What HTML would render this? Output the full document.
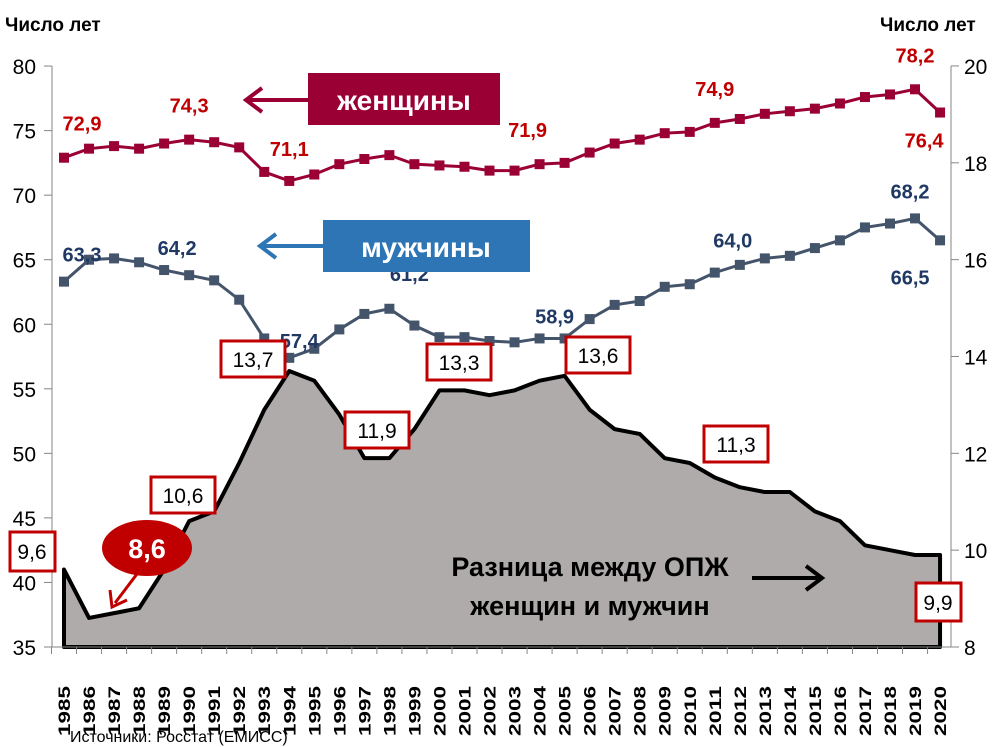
<!DOCTYPE html>
<html><head><meta charset="utf-8"><style>
body{margin:0;background:#fff}
svg{display:block;font-family:"Liberation Sans",sans-serif}
.nar{font-family:"Liberation Sans Narrow","Liberation Sans",sans-serif}
</style></head><body>
<svg id="chart" width="1004" height="747" viewBox="0 0 1004 747">
<g id="grid"></g>
<g id="gap"></g>
<g id="series"></g>
<g id="labels"></g>
<g id="axes"></g>
</svg>
<script>
const years=[1985,1986,1987,1988,1989,1990,1991,1992,1993,1994,1995,1996,1997,1998,1999,2000,2001,2002,2003,2004,2005,2006,2007,2008,2009,2010,2011,2012,2013,2014,2015,2016,2017,2018,2019,2020];
const women=[72.9,73.6,73.8,73.6,74.0,74.3,74.1,73.7,71.8,71.1,71.6,72.4,72.8,73.1,72.4,72.3,72.2,71.9,71.9,72.4,72.5,73.3,74.0,74.3,74.8,74.9,75.6,75.9,76.3,76.5,76.7,77.1,77.6,77.8,78.2,76.4];
const men=[63.3,65.0,65.1,64.8,64.2,63.8,63.4,61.9,58.9,57.4,58.1,59.6,60.8,61.2,59.9,59.0,59.0,58.7,58.6,58.9,58.9,60.4,61.5,61.8,62.9,63.1,64.0,64.6,65.1,65.3,65.9,66.5,67.5,67.8,68.2,66.5];
const gapVals=[9.6,8.6,8.7,8.8,9.6,10.6,10.8,11.8,12.9,13.7,13.5,12.8,11.9,11.9,12.5,13.3,13.3,13.2,13.3,13.5,13.6,12.9,12.5,12.4,11.9,11.8,11.5,11.3,11.2,11.2,10.8,10.6,10.1,10.0,9.9,9.9];
const leftTicks=[35,40,45,50,55,60,65,70,75,80];
const rightTicks=[8,10,12,14,16,18,20];
const womenLabels=[[1985,"72,9"],[1990,"74,3"],[1994,"71,1"],[2004,"71,9"],[2011,"74,9"],[2019,"78,2"],[2020,"76,4"]];
const menLabels=[[1985,"63,3"],[1990,"64,2"],[1994,"57,4"],[1998,"61,2"],[2005,"58,9"],[2011,"64,0"],[2019,"68,2"],[2020,"66,5"]];
const NS="http://www.w3.org/2000/svg";
const X=y=>64+(y-1985)*25.03;
const YL=v=>647-(v-35)*12.91;
const YR=v=>647-(v-8)*48.42;
function mk(tag,attrs,parent,text){const e=document.createElementNS(NS,tag);for(const k in attrs)e.setAttribute(k,attrs[k]);if(text!==undefined)e.textContent=text;document.getElementById(parent).appendChild(e);return e;}
// gap area
let d="M"+X(1985)+","+YL(35);
years.forEach((y,i)=>d+=" L"+X(y)+","+YR(gapVals[i]));
d+=" L"+X(2020)+","+YL(35)+" Z";
let e=mk("path",{d:d,fill:"#AFABAB",stroke:"#000","stroke-width":4,"stroke-linejoin":"round"},"gap");


// series
function series(vals,color,name){
 const p=vals.map((v,i)=>X(years[i])+","+YL(v)).join(" ");
 let l=mk("polyline",{points:p,fill:"none",stroke:color,"stroke-width":3},"series");
 
 
 vals.forEach((v,i)=>{
  let r=mk("rect",{x:X(years[i])-5,y:YL(v)-5,width:10,height:10,fill:color},"series");
  
  
 });
}
series(women,"#9B0034","women");
series(men,"#44546A","men");
// value labels
const wOff={1985:-27,1990:-27,1994:-25,2004:-27,2011:-27,2019:-27,2020:35};
womenLabels.forEach(([y,t])=>{const i=years.indexOf(y);
 let tx=mk("text",{x:X(y)+(y==1985?18:y==2020?-16:y==2004?-12:0),y:YL(women[i])+wOff[y],"text-anchor":"middle","font-size":20,"font-weight":"bold",fill:"#C00000"},"labels",t);
 
 });
const mPos={1985:[18,-20],1990:[-12,-20],1994:[10,-10],1998:[20,-28],2005:[-10,-15],2011:[18,-25],2019:[-5,-20],2020:[-30,44]};
menLabels.forEach(([y,t])=>{const i=years.indexOf(y);
 let tx=mk("text",{x:X(y)+mPos[y][0],y:YL(men[i])+mPos[y][1],"text-anchor":"middle","font-size":20,"font-weight":"bold",fill:"#1F3864"},"labels",t);
 
 });
// axes
let ax=mk("line",{x1:52,y1:66,x2:52,y2:647,stroke:"#868686","stroke-width":1},"axes");
ax=mk("line",{x1:951,y1:66,x2:951,y2:647,stroke:"#868686","stroke-width":1},"axes");
ax=mk("line",{x1:52,y1:647,x2:951,y2:647,stroke:"#868686","stroke-width":1},"axes");
leftTicks.forEach(v=>{
 mk("line",{x1:44,y1:YL(v),x2:52,y2:YL(v),stroke:"#868686"},"axes");
 let t=mk("text",{x:36,y:YL(v)+8,"text-anchor":"end","font-size":21,fill:"#000"},"axes",v);
 
 });
rightTicks.forEach(v=>{
 mk("line",{x1:951,y1:YR(v),x2:959,y2:YR(v),stroke:"#868686"},"axes");
 let t=mk("text",{x:964,y:YR(v)+8,"font-size":21,fill:"#000"},"axes",v);
 
 });
years.forEach(y=>{
 mk("line",{x1:X(y)-12.5,y1:647,x2:X(y)-12.5,y2:654,stroke:"#868686"},"axes");
 let t=mk("text",{x:X(y)+6,y:711,"font-size":17,"font-weight":"bold","text-anchor":"middle",transform:"rotate(-90 "+(X(y)+6)+" 711)",textLength:50,lengthAdjust:"spacingAndGlyphs"},"axes",y);
 
 });
</script>
<svg width="1004" height="747" style="position:absolute;left:0;top:0" viewBox="0 0 1004 747">
<defs>
<marker id="ah" markerWidth="10" markerHeight="10" refX="6" refY="5" orient="auto" markerUnits="userSpaceOnUse"><path d="M0,0 L7,5 L0,10" fill="none" stroke="context-stroke" stroke-width="3"/></marker>
</defs>
<text x="5" y="31" font-size="19" font-weight="bold" font-family="Liberation Sans,sans-serif">Число лет</text>
<text x="880" y="31" font-size="19" font-weight="bold" font-family="Liberation Sans,sans-serif">Число лет</text>
<g>
<rect x="308" y="73" width="192" height="52" fill="#9B0034"/>
<text x="404" y="110" font-size="28" font-weight="bold" fill="#fff" text-anchor="middle" font-family="Liberation Sans,sans-serif">женщины</text>
<line x1="308" y1="100" x2="246" y2="100" stroke="#9B0034" stroke-width="4"/>
<path d="M262,88 L246,100 L262,112" fill="none" stroke="#9B0034" stroke-width="4"/>
</g>
<g>
<rect x="323" y="220" width="207" height="52" fill="#2E75B6"/>
<text x="426" y="257" font-size="28" font-weight="bold" fill="#fff" text-anchor="middle" font-family="Liberation Sans,sans-serif">мужчины</text>
<line x1="323" y1="246" x2="260" y2="246" stroke="#2E75B6" stroke-width="4"/>
<path d="M276,234 L260,246 L276,258" fill="none" stroke="#2E75B6" stroke-width="4"/>
</g>
<g font-family="Liberation Sans,sans-serif" font-size="21" text-anchor="middle">
<rect x="221" y="341" width="64" height="36" fill="#fff" stroke="#C00000" stroke-width="3"/><text x="253" y="367">13,7</text>
<rect x="427" y="344" width="64" height="36" fill="#fff" stroke="#C00000" stroke-width="3"/><text x="459" y="370">13,3</text>
<rect x="566" y="337" width="64" height="36" fill="#fff" stroke="#C00000" stroke-width="3"/><text x="598" y="363">13,6</text>
<rect x="345" y="412" width="64" height="36" fill="#fff" stroke="#C00000" stroke-width="3"/><text x="377" y="438">11,9</text>
<rect x="704" y="426" width="64" height="36" fill="#fff" stroke="#C00000" stroke-width="3"/><text x="736" y="452">11,3</text>
<rect x="151" y="477" width="64" height="36" fill="#fff" stroke="#C00000" stroke-width="3"/><text x="183" y="503">10,6</text>
<rect x="10" y="532" width="45" height="39" fill="#fff" stroke="#C00000" stroke-width="3"/><text x="32" y="559">9,6</text>
<rect x="916" y="583" width="45" height="38" fill="#fff" stroke="#C00000" stroke-width="3"/><text x="938" y="610">9,9</text>
</g>
<g>
<line x1="140" y1="570" x2="115" y2="603" stroke="#C00000" stroke-width="3"/>
<path d="M110,590 L112,607 L127,600" fill="none" stroke="#C00000" stroke-width="3"/>
<ellipse cx="147" cy="548" rx="45" ry="28" fill="#C00000"/>
<text x="147" y="558" font-size="27" font-weight="bold" fill="#fff" text-anchor="middle" font-family="Liberation Sans,sans-serif">8,6</text>
</g>
<g font-size="27" font-weight="bold" text-anchor="middle" font-family="Liberation Sans Narrow,Liberation Sans,sans-serif">
<text x="590" y="576">Разница между ОПЖ</text>
<text x="590" y="615">женщин и мужчин</text>
<line x1="752" y1="578" x2="820" y2="578" stroke="#000" stroke-width="4"/>
<path d="M806,566 L822,578 L806,590" fill="none" stroke="#000" stroke-width="4"/>
</g>
<text x="70" y="742" font-size="16" font-family="Liberation Sans Narrow,Liberation Sans,sans-serif">Источники: Росстат (ЕМИСС)</text>
</svg>
</body></html>
